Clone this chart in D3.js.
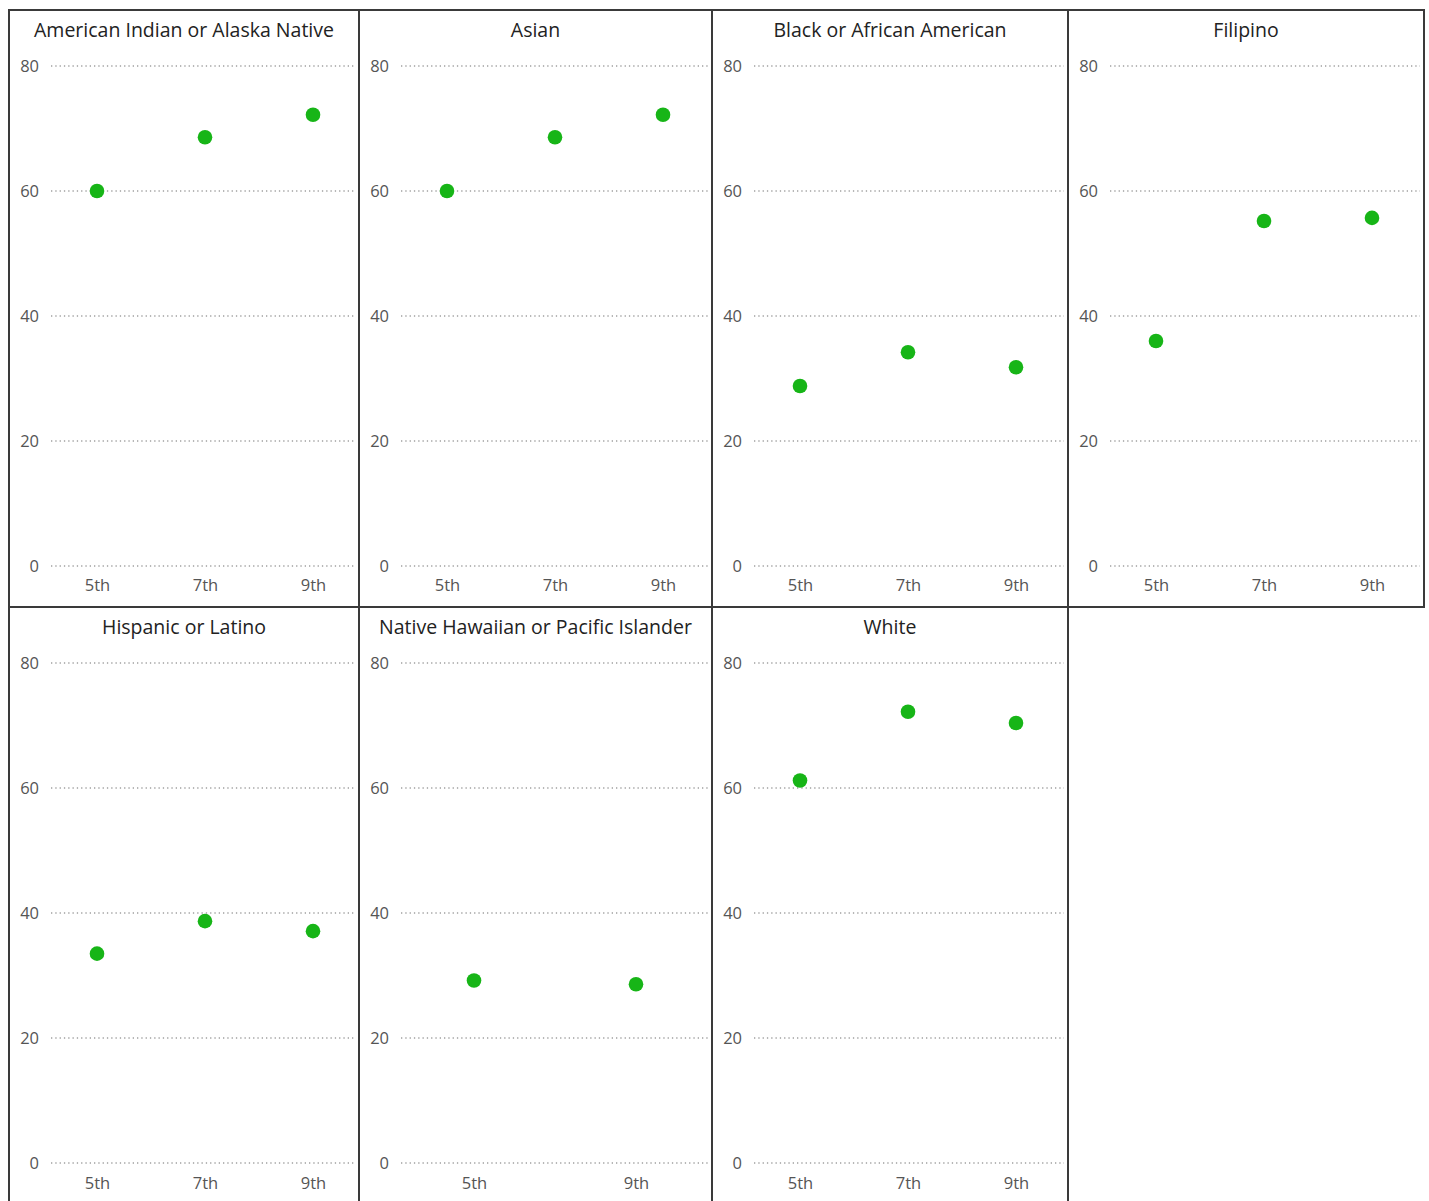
<!DOCTYPE html>
<html>
<head>
<meta charset="utf-8">
<script src="https://cdn.jsdelivr.net/npm/d3@7"></script>
<style>
  html, body { margin: 0; padding: 0; background: #fff; }
  svg { display: block; }
</style>
</head>
<body>
<script>
// ---- data ----
const groups = [
  "American Indian or Alaska Native",
  "Asian",
  "Black or African American",
  "Filipino",
  "Hispanic or Latino",
  "Native Hawaiian or Pacific Islander",
  "White"
];
const grades = [
  ["5th", "7th", "9th"],
  ["5th", "7th", "9th"],
  ["5th", "7th", "9th"],
  ["5th", "7th", "9th"],
  ["5th", "7th", "9th"],
  ["5th", "9th"],
  ["5th", "7th", "9th"]
];
const values = [
  [60.0, 68.6, 72.2],
  [60.0, 68.6, 72.2],
  [28.8, 34.2, 31.8],
  [36.0, 55.2, 55.7],
  [33.5, 38.7, 37.1],
  [29.2, 28.6],
  [61.2, 72.2, 70.4]
];
const yTicks = [0, 20, 40, 60, 80];

// ---- layout ----
const W = 1429, H = 1201;
const colEdges = [9, 359, 712, 1068, 1424];
const rowTops = [10, 607];
const panelH = 597;
const ncol = 4;

const svg = d3.select("body").append("svg")
  .attr("width", W).attr("height", H);

const font = "'Open Sans', 'Noto Sans', sans-serif";

groups.forEach((name, i) => {
  const c = i % ncol, r = Math.floor(i / ncol);
  const x0 = colEdges[c], pw = colEdges[c + 1] - colEdges[c];
  const y0 = rowTops[r];
  const g = svg.append("g").attr("transform", `translate(${x0},${y0})`);

  const x = d3.scalePoint().domain(grades[i]).range([34, 358]).padding(0.5);
  const y = d3.scaleLinear().domain([0, 80]).range([556, 56]);

  // grid lines
  g.append("g").selectAll("line").data(yTicks).join("line")
    .attr("x1", 42).attr("x2", pw - 4)
    .attr("y1", d => y(d)).attr("y2", d => y(d))
    .attr("stroke", "#a0a0a0").attr("stroke-width", 1.4)
    .attr("stroke-dasharray", "1.3,3");

  // y axis labels
  const yAxis = d3.axisLeft(y).tickValues(yTicks).tickSize(0).tickPadding(0);
  const ya = g.append("g").attr("transform", "translate(30,0)").call(yAxis);
  ya.select(".domain").remove();
  ya.selectAll("text").attr("font-family", font).attr("font-size", 16.5)
    .attr("fill", "#555");

  // x axis labels
  const xAxis = d3.axisBottom(x).tickSize(0).tickPadding(0);
  const xa = g.append("g").attr("transform", `translate(0,${r === 0 ? 569 : 570})`).call(xAxis);
  xa.select(".domain").remove();
  xa.selectAll("text").attr("font-family", font).attr("font-size", 16.5)
    .attr("fill", "#555");

  // title
  g.append("text").attr("x", pw / 2).attr("y", 27)
    .attr("text-anchor", "middle").attr("font-family", font)
    .attr("font-size", 19.5).attr("fill", "#222").text(name);

  // dots
  g.append("g").selectAll("circle").data(values[i]).join("circle")
    .attr("cx", (d, k) => x(grades[i][k]))
    .attr("cy", d => y(d))
    .attr("r", 7.3)
    .attr("fill", "#17b517");

  // border
  g.append("rect").attr("x", 0).attr("y", 0).attr("width", pw).attr("height", panelH)
    .attr("fill", "none").attr("stroke", "#3a3a3a").attr("stroke-width", 2);
});
</script>
</body>
</html>
